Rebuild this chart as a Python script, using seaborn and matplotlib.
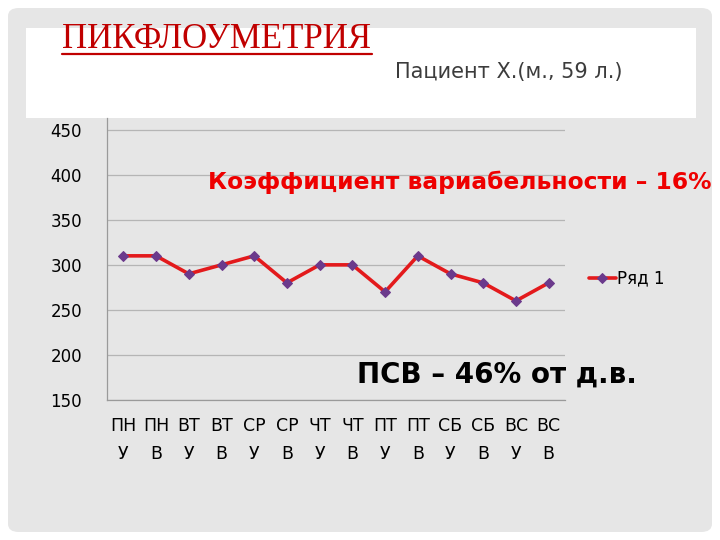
import numpy as np
import pandas as pd
import matplotlib.pyplot as plt
import seaborn as sns
from matplotlib.patches import FancyBboxPatch, Rectangle

# Данные пикфлоуметрии (утро / вечер по дням недели)
days = ['ПН', 'ПН', 'ВТ', 'ВТ', 'СР', 'СР', 'ЧТ', 'ЧТ', 'ПТ', 'ПТ', 'СБ', 'СБ', 'ВС', 'ВС']
times = ['У', 'В', 'У', 'В', 'У', 'В', 'У', 'В', 'У', 'В', 'У', 'В', 'У', 'В']
psv = [310, 310, 290, 300, 310, 280, 300, 300, 270, 310, 290, 280, 260, 280]
y_ticks = [150, 200, 250, 300, 350, 400, 450]

sns.set_style("white")
plt.rcParams['font.family'] = ['DejaVu Sans']

df = pd.DataFrame({'pos': np.arange(len(psv)), 'psv': psv, 'series': 'Ряд 1'})
labels = [f'{d}\n{t}' for d, t in zip(days, times)]

fig = plt.figure(figsize=(7.2, 5.4), dpi=100)
fig.patch.set_facecolor('white')

# фон слайда
slide = FancyBboxPatch((8 / 720, 8 / 540), 704 / 720, 524 / 540,
                       boxstyle='round,pad=0,rounding_size=0.015',
                       transform=fig.transFigure, facecolor='#e6e6e6',
                       edgecolor='none', zorder=-2)
fig.patches.append(slide)
header = Rectangle((26 / 720, 1 - 118 / 540), 670 / 720, 90 / 540,
                   transform=fig.transFigure, facecolor='white',
                   edgecolor='none', zorder=-1)
fig.patches.append(header)

ax = fig.add_axes([107 / 720, 1 - 400 / 540, 458 / 720, 282 / 540])
ax.set_facecolor('none')

sns.lineplot(data=df, x='pos', y='psv', hue='series', palette=['#e31a1c'],
             linewidth=2.6, marker='D', markersize=5.5,
             markerfacecolor='#6b3a8c', markeredgecolor='#6b3a8c', ax=ax)

ax.set_xlim(-0.5, len(psv) - 0.5)
ax.set_ylim(150, 463)
ax.set_yticks(y_ticks)
ax.set_yticklabels([str(v) for v in y_ticks], fontsize=12, color='black')
ax.set_xticks(df['pos'])
ax.set_xticklabels(labels, fontsize=12.5, linespacing=1.75, color='black')
ax.set_xticks(np.arange(-0.5, len(psv), 1), minor=True)
ax.tick_params(axis='x', which='major', length=0, pad=12)
ax.tick_params(axis='x', which='minor', length=6, color='#9a9a9a', direction='out')
ax.tick_params(axis='y', length=0, pad=18)
ax.yaxis.grid(True, color='#b5b5b5', linewidth=0.9)
ax.set_axisbelow(True)
for s in ['top', 'right']:
    ax.spines[s].set_visible(False)
ax.spines['left'].set_color('#9a9a9a')
ax.spines['bottom'].set_color('#9a9a9a')
ax.spines['left'].set_linewidth(0.9)
ax.spines['bottom'].set_linewidth(0.9)
ax.set_xlabel('')
ax.set_ylabel('')

leg = ax.legend(loc='center left', bbox_to_anchor=(1.02, 0.43), frameon=False,
                fontsize=12, handlelength=1.6, handletextpad=0.1)
for t in leg.get_texts():
    t.set_color('black')

# заголовки
fig.text(62 / 720, 1 - 40 / 540, 'ПИКФЛОУМЕТРИЯ', color='#c00000',
         fontsize=25, family=['Liberation Serif'], va='center', ha='left')
fig.add_artist(plt.Line2D([62 / 720, 372 / 720], [1 - 54 / 540, 1 - 54 / 540],
                          color='#c00000', linewidth=1.6, transform=fig.transFigure))
fig.text(395 / 720, 1 - 72 / 540, 'Пациент Х.(м., 59 л.)', color='#3c3c3c',
         fontsize=15, va='center', ha='left')

fig.text(208 / 720, 1 - 182 / 540, 'Коэффициент вариабельности – 16%',
         color='#ee0000', fontsize=16.8, fontweight='bold', va='center', ha='left')
fig.text(357 / 720, 1 - 375 / 540, 'ПСВ – 46% от д.в.',
         color='black', fontsize=20, fontweight='bold', va='center', ha='left')

plt.savefig('out.png', dpi=100)
plt.close()
